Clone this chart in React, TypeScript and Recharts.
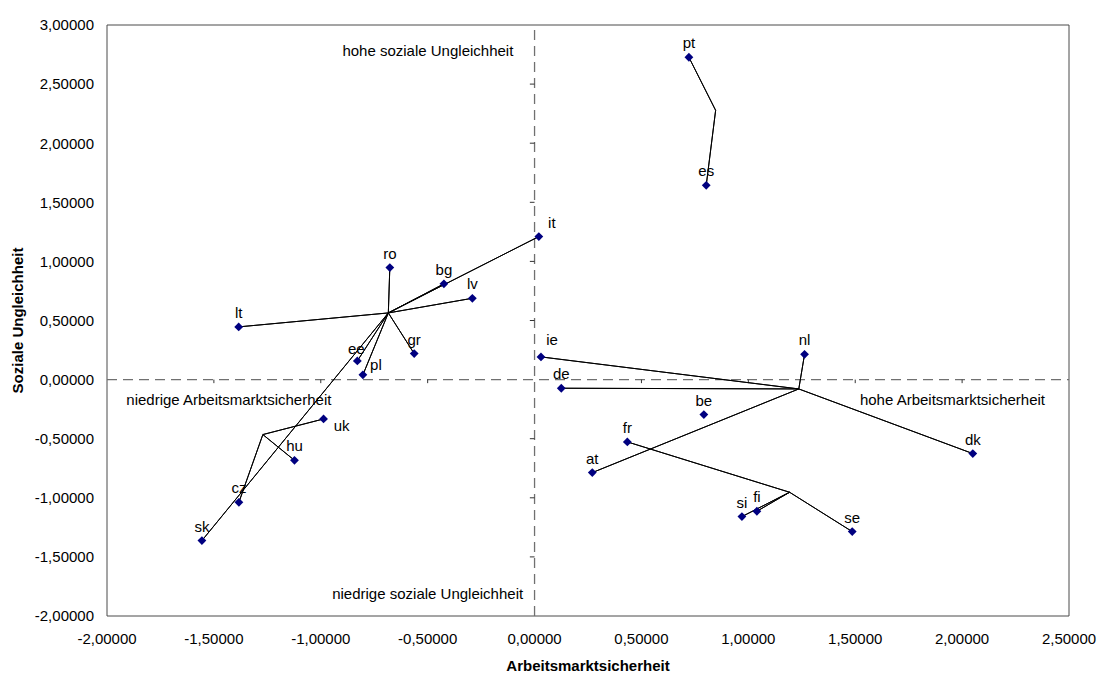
import React from "react";
import {
  ScatterChart,
  Scatter,
  XAxis,
  YAxis,
  ReferenceLine,
  ReferenceArea,
} from "recharts";

// Länderkürzel und Faktorwerte
const countries = [
  "pt", "es", "it", "ro", "bg", "lv", "lt", "gr", "ee", "pl", "ie", "nl",
  "de", "be", "fr", "at", "dk", "uk", "hu", "cz", "sk", "si", "fi", "se",
];
const arbeitsmarkt = [
  0.722, 0.803, 0.02, -0.677, -0.424, -0.291, -1.384, -0.563, -0.829, -0.803, 0.03, 1.263,
  0.125, 0.792, 0.434, 0.27, 2.05, -0.987, -1.123, -1.383, -1.556, 0.97, 1.04, 1.486,
];
const ungleichheit = [
  2.727, 1.644, 1.21, 0.948, 0.81, 0.688, 0.446, 0.22, 0.158, 0.04, 0.192, 0.214,
  -0.073, -0.296, -0.527, -0.787, -0.626, -0.333, -0.683, -1.038, -1.362, -1.159, -1.114, -1.286,
];

// Clusterzentren und zugehörige Länder
const hubX = [-0.684, -1.271, 1.236, 1.193, 0.847];
const hubY = [0.564, -0.465, -0.079, -0.953, 2.278];
const clusterMembers = [
  ["ro", "bg", "lv", "lt", "it", "ee", "pl", "gr", "sk"],
  ["uk", "hu", "cz"],
  ["ie", "de", "nl", "dk", "at"],
  ["fr", "si", "fi", "se"],
  ["pt", "es"],
];

const xTicks = [-2, -1.5, -1, -0.5, 0, 0.5, 1, 1.5, 2, 2.5];
const yTicks = [-2, -1.5, -1, -0.5, 0, 0.5, 1, 1.5, 2, 2.5, 3];

const noteTexts = [
  "hohe soziale Ungleichheit",
  "niedrige Arbeitsmarktsicherheit",
  "niedrige soziale Ungleichheit",
  "hohe Arbeitsmarktsicherheit",
];
const noteX = [-0.499, -1.43, -0.5, 1.955];
const noteY = [2.783, -0.169, -1.81, -0.169];

// Beschriftungsversatz (Pixel) für einzelne Punkte
const labelOffset: Record<string, [number, number]> = {
  uk: [18, 7],
  it: [13, -14],
  ie: [11, -17],
  pl: [13, -10],
  ee: [-1, -12],
};

const FONT = "'Liberation Sans', Arial, sans-serif";
const fmt = (v: number) => v.toFixed(5).replace(".", ",");

const points = countries.map((name, i) => ({
  name,
  x: arbeitsmarkt[i],
  y: ungleichheit[i],
}));

const stars = clusterMembers.map((members, c) => {
  const hub = { name: "", x: hubX[c], y: hubY[c] };
  const out = [hub];
  members.forEach((m) => {
    const p = points.find((pt) => pt.name === m);
    if (p) out.push(p, hub);
  });
  return out;
});

const notes = noteTexts.map((text, i) => ({ text, x: noteX[i], y: noteY[i] }));

const Diamond = (props: any) => {
  const { cx, cy, payload } = props;
  const off = labelOffset[payload.name] ?? [0, -14];
  const s = 4.4;
  return (
    <g>
      <path
        d={`M${cx},${cy - s}L${cx + s},${cy}L${cx},${cy + s}L${cx - s},${cy}Z`}
        fill="#000080"
      />
      <text
        x={cx + off[0]}
        y={cy + off[1] + 5}
        textAnchor="middle"
        fontSize={15}
        fontFamily={FONT}
        fill="#000"
      >
        {payload.name}
      </text>
    </g>
  );
};

const NoteText = (props: any) => {
  const { cx, cy, payload } = props;
  return (
    <text
      x={cx}
      y={cy + 5}
      textAnchor="middle"
      fontSize={15}
      fontFamily={FONT}
      fill="#000"
    >
      {payload.text}
    </text>
  );
};

const NoShape = () => <g />;

export default function App() {
  return (
    <div style={{ position: "absolute", left: 0, top: 0, fontFamily: FONT, background: "#fff" }}>
      <ScatterChart
        width={1099}
        height={673}
        margin={{ top: 25, right: 30, bottom: 0, left: 7 }}
      >
        <XAxis
          type="number"
          dataKey="x"
          domain={[-2, 2.5]}
          ticks={xTicks}
          interval={0}
          tickFormatter={fmt}
          axisLine={false}
          tickLine={false}
          tickSize={0}
          tickMargin={17}
          height={57}
          tick={{ fontSize: 15, fill: "#000" }}
          label={{
            value: "Arbeitsmarktsicherheit",
            position: "insideBottom",
            offset: 2,
            fontSize: 15,
            fontWeight: 700,
            fill: "#000",
          }}
        />
        <YAxis
          type="number"
          dataKey="y"
          domain={[-2, 3]}
          ticks={yTicks}
          interval={0}
          tickFormatter={fmt}
          axisLine={false}
          tickLine={false}
          tickSize={0}
          tickMargin={13}
          width={100}
          tick={{ fontSize: 15, fill: "#000" }}
          label={{
            value: "Soziale Ungleichheit",
            angle: -90,
            position: "insideLeft",
            offset: 11,
            fontSize: 15,
            fontWeight: 700,
            fill: "#000",
            style: { textAnchor: "middle" },
          }}
        />
        <ReferenceArea
          x1={-2}
          x2={2.5}
          y1={-2}
          y2={3}
          fill="none"
          stroke="#4a4a4a"
          strokeWidth={1}
        />
        <ReferenceLine x={0} stroke="#707070" strokeWidth={1.3} strokeDasharray="10 6" />
        <ReferenceLine y={0} stroke="#707070" strokeWidth={1.3} strokeDasharray="10 6" />
        {xTicks
          .filter((t) => t > -2 && t < 2.5 && t !== 0)
          .map((t) => (
            <ReferenceLine
              key={`xt${t}`}
              segment={[
                { x: t, y: 0 },
                { x: t, y: -0.03 },
              ]}
              stroke="#333"
            />
          ))}
        {yTicks
          .filter((t) => t > -2 && t < 3 && t !== 0)
          .map((t) => (
            <ReferenceLine
              key={`yt${t}`}
              segment={[
                { x: 0, y: t },
                { x: -0.022, y: t },
              ]}
              stroke="#333"
            />
          ))}
        {stars.map((data, i) => (
          <Scatter
            key={`star${i}`}
            data={data}
            line={{ stroke: "#000", strokeWidth: 1 }}
            lineType="joint"
            shape={NoShape}
            isAnimationActive={false}
          />
        ))}
        <Scatter data={points} shape={Diamond} isAnimationActive={false} />
        <Scatter data={notes} shape={NoteText} isAnimationActive={false} />
      </ScatterChart>
    </div>
  );
}
